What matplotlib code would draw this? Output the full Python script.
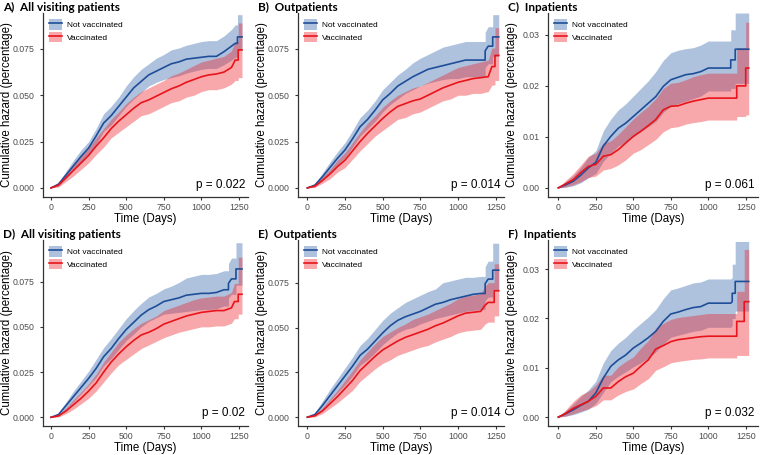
import matplotlib
matplotlib.use("Agg")
import matplotlib.pyplot as plt
from matplotlib.patches import Patch
from matplotlib.lines import Line2D

# common day grid (read every 50 days); each curve adds its own tail,
# a repeated day in a tail is a jump of the step curve
days = [0, 50, 100, 150, 200, 250, 300, 350, 400, 450, 500, 550,
        600, 650, 700, 750, 800, 850, 900, 950, 1000, 1050, 1100, 1150]

labels = ["Not vaccinated", "Vaccinated"]

# A) all visiting patients
a_nv_t = days + [1200, 1225, 1240, 1240, 1270]
a_nv = [0, .002, .007, .012, .017, .0215, .028, .035, .039, .044, .049, .054, .0575, .061, .063, .065,
        .067, .068, .0695, .070, .0705, .071, .071, .0735, .0765, .078, .078, .0815, .0815]
a_nv_lo = [0, .001, .005, .0095, .0135, .018, .0235, .0305, .034, .039, .044, .048, .0515, .055, .057, .0585,
           .0595, .0605, .062, .063, .064, .0645, .0645, .0665, .069, .0705, .0705, .0745, .0745]
a_nv_hi = [0, .003, .009, .015, .0205, .025, .032, .040, .044, .049, .055, .060, .064, .067, .070, .072,
           .0745, .0755, .077, .078, .079, .0795, .0795, .082, .0855, .088, .088, .0935, .0935]
a_v_t = days + [1200, 1225, 1245, 1245, 1270]
a_v = [0, .0015, .0055, .0095, .0135, .0175, .0225, .027, .032, .036, .0395, .043, .046, .0475, .0495, .0515,
       .0535, .055, .057, .0585, .060, .061, .0615, .0625, .065, .069, .069, .0745, .0745]
a_v_lo = [0, .0005, .0035, .0065, .010, .0135, .018, .022, .027, .030, .033, .036, .039, .040, .042, .044,
          .046, .047, .049, .050, .052, .053, .053, .054, .056, .058, .058, .0595, .0595]
a_v_hi = [0, .0025, .0075, .0125, .017, .0215, .027, .032, .037, .041, .0455, .049, .052, .054, .056, .058,
          .0605, .062, .064, .066, .068, .069, .070, .071, .074, .079, .079, .089, .089]

# B) outpatients
b_nv_t = days + [1180, 1180, 1200, 1230, 1230, 1270]
b_nv = [0, .0015, .006, .011, .016, .0205, .0265, .033, .037, .042, .0475, .051, .055, .0575, .060, .062,
        .064, .065, .066, .067, .068, .069, .069, .069, .069, .074, .0765, .0765, .0815, .0815]
b_nv_lo = [0, .0005, .004, .0085, .0125, .0165, .022, .028, .032, .036, .041, .045, .048, .051, .053, .055,
           .0565, .0575, .0585, .059, .059, .060, .060, .060, .060, .065, .067, .067, .071, .071]
b_nv_hi = [0, .0025, .008, .014, .0195, .0245, .031, .038, .042, .047, .053, .057, .061, .064, .0675, .070,
           .072, .074, .076, .077, .078, .079, .079, .079, .079, .084, .087, .087, .0935, .0935]
b_v_t = days + [1200, 1225, 1245, 1245, 1270]
b_v = [0, .001, .004, .0075, .0115, .015, .020, .025, .0295, .0335, .0375, .041, .044, .0455, .047, .048,
       .050, .052, .054, .0555, .057, .058, .059, .0595, .060, .0655, .0655, .0715, .0715]
b_v_lo = [0, .0003, .0025, .005, .0085, .011, .0155, .020, .024, .028, .031, .034, .037, .038, .040, .041,
          .043, .045, .047, .048, .050, .050, .051, .051, .052, .0555, .0555, .058, .058]
b_v_hi = [0, .002, .0058, .010, .015, .019, .0245, .030, .035, .039, .0435, .047, .050, .052, .054, .055,
          .057, .059, .061, .063, .065, .066, .067, .068, .069, .0755, .0755, .0865, .0865]

# C) inpatients
c_nv_t = days + [1150, 1180, 1180, 1270]
c_nv = [0, .0006, .0013, .0025, .0039, .005, .0082, .0101, .0117, .0127, .014, .0153, .0166, .0179, .0199,
        .0212, .0217, .0222, .0224, .0228, .0235, .0235, .0235, .0235, .0251, .0251, .0272, .0272]
c_nv_lo = [0, .0001, .0004, .001, .002, .0028, .0052, .0068, .0082, .009, .010, .011, .012, .013, .0148,
           .016, .0165, .017, .0175, .018, .019, .019, .019, .019, .0195, .0195, .0205, .0205]
c_nv_hi = [0, .0012, .0024, .004, .006, .0073, .0112, .0135, .0153, .0165, .018, .0195, .021, .0228, .025,
           .0265, .027, .0273, .0275, .028, .0288, .0288, .0288, .0288, .031, .031, .0343, .0343]
c_v_t = days + [1190, 1190, 1250, 1250, 1270]
c_v = [0, .0008, .0016, .003, .0042, .0046, .0062, .0065, .0075, .0088, .0101, .0111, .0122, .0134, .0153,
       .016, .0161, .0166, .017, .0173, .0176, .0176, .0176, .0176, .0176, .020, .020, .0235, .0235]
c_v_lo = [0, .0002, .0006, .0012, .002, .0023, .0035, .0038, .0045, .0055, .0068, .0075, .0085, .0095, .011,
          .0118, .012, .0125, .0128, .013, .0133, .0133, .0133, .0133, .0133, .014, .014, .0143, .0143]
c_v_hi = [0, .0015, .0028, .0045, .0062, .0068, .0088, .0092, .0105, .012, .0135, .0148, .016, .0175, .0195,
          .0205, .0207, .0212, .0218, .0222, .0225, .0225, .0225, .0225, .0225, .0275, .0275, .0325, .0325]

# D) all visiting patients
d_nv_t = days + [1180, 1180, 1200, 1230, 1230, 1270]
d_nv = [0, .0015, .0065, .0115, .0165, .0215, .027, .0335, .038, .0435, .0485, .0525, .0565, .0595, .0615, .064,
        .065, .066, .0675, .068, .0685, .0685, .069, .0705, .0705, .074, .0765, .0765, .082, .082]
d_nv_lo = [0, .0005, .0045, .0085, .013, .0175, .022, .0285, .0325, .0375, .0425, .046, .050, .053, .055, .057,
           .0575, .058, .0585, .059, .0595, .0595, .060, .0615, .0615, .066, .068, .068, .073, .073]
d_nv_hi = [0, .0025, .0085, .0145, .020, .0255, .032, .0385, .0435, .049, .0545, .059, .063, .0665, .0685, .071,
           .0725, .0745, .077, .078, .079, .079, .0795, .081, .081, .085, .088, .088, .0965, .0965]
d_v_t = days + [1200, 1220, 1245, 1245, 1270]
d_v = [0, .0008, .0035, .007, .0105, .0145, .019, .025, .0305, .035, .039, .0425, .0455, .047, .049, .0515,
       .053, .0545, .056, .057, .058, .0585, .059, .059, .0605, .064, .064, .068, .068]
d_v_lo = [0, .0002, .002, .0045, .0075, .0105, .0145, .0195, .0245, .029, .032, .035, .038, .040, .042, .044,
          .0455, .047, .048, .049, .050, .050, .0505, .0505, .052, .0545, .0545, .057, .057]
d_v_hi = [0, .0015, .0052, .0098, .014, .0185, .0238, .0305, .036, .0415, .0455, .049, .052, .054, .056, .059,
          .0605, .062, .0635, .065, .066, .0665, .067, .067, .069, .074, .074, .0885, .0885]

# E) outpatients
e_nv_t = days + [1180, 1180, 1200, 1230, 1230, 1270]
e_nv = [0, .0015, .0065, .012, .0175, .023, .0285, .0345, .038, .0425, .047, .051, .054, .056, .0575, .059,
        .061, .063, .064, .0655, .0665, .0675, .0685, .069, .069, .0745, .077, .077, .082, .082]
e_nv_lo = [0, .0005, .0045, .009, .0135, .018, .023, .029, .032, .036, .0405, .044, .047, .049, .050, .052,
           .0535, .055, .056, .057, .058, .059, .0595, .060, .060, .065, .067, .067, .071, .071]
e_nv_hi = [0, .0025, .009, .0155, .0215, .0275, .0335, .040, .044, .049, .054, .058, .061, .064, .066, .068,
           .070, .0715, .075, .076, .077, .078, .078, .0785, .0785, .084, .087, .087, .097, .097]
e_v_t = days + [1180, 1200, 1240, 1240, 1270]
e_v = [0, .0008, .0035, .0075, .0115, .016, .0205, .026, .030, .034, .0375, .040, .0425, .0445, .046, .0475,
       .049, .051, .0525, .0545, .0565, .058, .0585, .059, .0625, .064, .064, .0705, .0705]
e_v_lo = [0, .0002, .002, .005, .008, .0115, .015, .020, .0235, .027, .030, .032, .0345, .036, .0375, .039,
          .040, .042, .0435, .045, .047, .048, .0485, .049, .052, .053, .053, .0565, .0565]
e_v_hi = [0, .0015, .0052, .0102, .015, .0205, .026, .032, .0365, .041, .045, .0475, .050, .052, .0545, .056,
          .0575, .0595, .0615, .0635, .066, .0675, .068, .069, .073, .075, .075, .0855, .0855]

# F) inpatients
f_nv_t = days + [1160, 1160, 1180, 1180, 1270]
f_nv = [0, .0007, .0015, .0024, .0032, .0049, .0079, .0103, .0116, .0126, .014, .015, .0161, .0174, .0194,
        .0209, .0213, .0218, .0222, .0224, .0231, .0231, .0231, .0231, .0234, .0251, .0251, .0275, .0275]
f_nv_lo = [0, .0002, .0005, .001, .0016, .0028, .005, .0072, .0083, .0092, .0102, .011, .012, .0132, .0148,
           .0162, .0166, .017, .0174, .0176, .0182, .0182, .0182, .0182, .0185, .020, .020, .0215, .0215]
f_nv_hi = [0, .0013, .0027, .0042, .0055, .0073, .011, .0135, .015, .0162, .0177, .019, .0203, .0218, .024,
           .0258, .0262, .0267, .0272, .0274, .028, .028, .028, .028, .0283, .031, .031, .0356, .0356]
f_v_t = days + [1190, 1190, 1240, 1240, 1270]
f_v = [0, .0008, .0018, .0025, .0032, .0042, .0059, .0059, .0072, .0082, .0089, .0103, .0116, .0138, .0145,
       .0153, .0157, .0159, .0161, .0163, .0164, .0164, .0164, .0164, .0164, .0194, .0194, .0234, .0234]
f_v_lo = [0, .0002, .0007, .0012, .0017, .0023, .0035, .0035, .0045, .0052, .0057, .0068, .0078, .0095, .0102,
          .011, .0113, .0115, .0117, .0118, .012, .012, .012, .012, .012, .0125, .0125, .0125, .0125]
f_v_hi = [0, .0015, .0032, .0045, .0052, .0065, .0085, .0085, .0102, .0113, .0122, .014, .0155, .018, .019,
          .0198, .0202, .0204, .0206, .0208, .021, .021, .021, .021, .021, .0255, .0255, .034, .034]

BLUE = "#1f4e99"
RED = "#e8141b"
BLUE_BAND = "#2a61aa"
RED_BAND = "#ee1c22"
ALPHA = 0.38

W, H = 761, 455
fig = plt.figure(figsize=(W / 100, H / 100), dpi=100)
plt.rcParams['font.family'] = ['Liberation Sans', 'DejaVu Sans']


def panel(box, title, nv, v, ylim, yticks, yfmt, xlim, pval):
    # box is the axes frame in pixels: left, top, right, bottom
    x0, y0, x1, y1 = box
    w, h = x1 - x0, y1 - y0
    ax = fig.add_axes([x0 / W, 1 - y1 / H, w / W, h / H])
    ax.fill_between(nv[0], nv[2], nv[3], color=BLUE_BAND, alpha=ALPHA, lw=0)
    ax.fill_between(v[0], v[2], v[3], color=RED_BAND, alpha=ALPHA, lw=0)
    ax.plot(nv[0], nv[1], color=BLUE, lw=1.2)
    ax.plot(v[0], v[1], color=RED, lw=1.2)
    ax.set_xlim(*xlim)
    ax.set_ylim(*ylim)
    ax.set_xticks([0, 250, 500, 750, 1000, 1250])
    ax.set_yticks(yticks)
    ax.set_yticklabels([yfmt % y for y in yticks])
    for s in ["top", "right"]:
        ax.spines[s].set_visible(False)
    for s in ["left", "bottom"]:
        ax.spines[s].set_color("#333333")
        ax.spines[s].set_linewidth(0.9)
    ax.tick_params(labelsize=6.3, length=2.5, width=0.8, color="#333333", labelcolor="#4d4d4d")
    ax.tick_params(axis="y", pad=3.5)
    ax.tick_params(axis="x", pad=1.5)
    ax.set_xlabel("Time (Days)", fontsize=8.3)
    ax.set_ylabel("Cumulative hazard (percentage)", fontsize=8.3)
    ax.yaxis.set_label_coords(-30 / w, 0.5)
    ax.xaxis.set_label_coords(0.5, -16 / h)
    ax.text(0.985, 0.035, "p = " + pval, transform=ax.transAxes, ha="right", va="bottom", fontsize=8.5)
    handles = [(Patch(facecolor=BLUE_BAND, alpha=ALPHA, lw=0), Line2D([], [], color=BLUE, lw=1.2)),
               (Patch(facecolor=RED_BAND, alpha=ALPHA, lw=0), Line2D([], [], color=RED, lw=1.2))]
    ax.legend(handles, labels, loc="upper left", frameon=False, fontsize=6, handlelength=1.6,
              handleheight=1.6, labelspacing=0.25, borderaxespad=0.2, borderpad=0.5,
              handletextpad=0.6)
    fig.text((x0 - 40) / W, 1 - (y0 - 6) / H, title, ha="left", va="center", fontsize=8.5,
             fontweight="bold", family=["Lato", "DejaVu Sans"])
    return ax


big = [0, .025, .05, .075]
small = [0, .01, .02, .03]

panel((43, 13, 248, 197), "A)  All visiting patients",
      (a_nv_t, a_nv, a_nv_lo, a_nv_hi), (a_v_t, a_v, a_v_lo, a_v_hi),
      (-0.0049, 0.0944), big, "%.3f", (-53, 1310), "0.022")
panel((298, 13, 504, 197), "B)  Outpatients",
      (b_nv_t, b_nv, b_nv_lo, b_nv_hi), (b_v_t, b_v, b_v_lo, b_v_hi),
      (-0.0049, 0.0944), big, "%.3f", (-62, 1305), "0.014")
panel((548, 13, 758, 197), "C)  Inpatients",
      (c_nv_t, c_nv, c_nv_lo, c_nv_hi), (c_v_t, c_v, c_v_lo, c_v_hi),
      (-0.0018, 0.0343), small, "%.2f", (-69, 1332), "0.061")
panel((43, 240, 248, 426), "D)  All visiting patients",
      (d_nv_t, d_nv, d_nv_lo, d_nv_hi), (d_v_t, d_v, d_v_lo, d_v_hi),
      (-0.0048, 0.098), big, "%.3f", (-53, 1310), "0.02")
panel((298, 240, 504, 426), "E)  Outpatients",
      (e_nv_t, e_nv, e_nv_lo, e_nv_hi), (e_v_t, e_v, e_v_lo, e_v_hi),
      (-0.0049, 0.0988), big, "%.3f", (-62, 1305), "0.014")
panel((548, 240, 758, 426), "F)  Inpatients",
      (f_nv_t, f_nv, f_nv_lo, f_nv_hi), (f_v_t, f_v, f_v_lo, f_v_hi),
      (-0.0018, 0.0359), small, "%.2f", (-69, 1332), "0.032")

fig.savefig("out.png", dpi=100)
